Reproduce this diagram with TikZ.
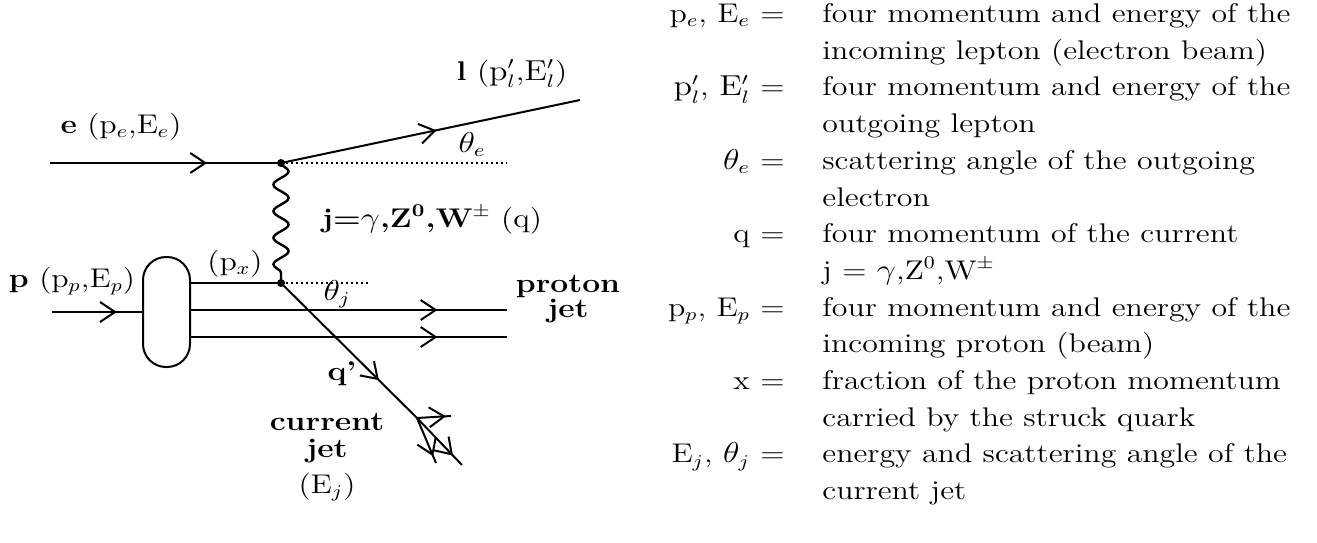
\documentclass[tikz,border=0pt]{standalone}
\usepackage{graphicx}
\usetikzlibrary{arrows.meta,decorations.markings,decorations.pathmorphing}
\newcommand\sx[1]{\scalebox{1.18}[1]{#1}}
\newcommand\rmp{\mathrm{p}}
\newcommand\rmE{\mathrm{E}}
\tikzset{
  lbl/.style={inner sep=0pt, font=\fontsize{13.5}{16}\selectfont},
  fline/.style={line width=1pt},
  marr/.style={postaction={decorate}, decoration={markings, mark=at position #1 with {\arrow{Straight Barb[length=7.5pt,width=10pt]}}}},
  vtx/.style={circle, fill, inner sep=0pt, minimum size=4pt},
  dots/.style={line width=1.1pt, dash pattern=on 1pt off 1.5pt},
  wave/.style={line width=1.2pt, decorate, decoration={snake, segment length=13.3pt, amplitude=3.8pt}},
}
\begin{document}
\begin{tikzpicture}[x=0.5pt,y=-0.5pt]
\useasboundingbox (0,0) rectangle (1317,542);
% ---------- diagram ----------
\node[vtx] (A) at (281,163) {};
\node[vtx] (B) at (281,283) {};
\coordinate (ein) at (50,163);
\coordinate (lout) at (580,100);
\coordinate (thE) at (507,163);
\coordinate (thJ) at (370,283);
\coordinate (pin) at (52,312);
\coordinate (pj2) at (507,310);
\coordinate (pj3) at (507,337);
\coordinate (C) at (417,418);
\coordinate (J1) at (462,465);
\coordinate (J2) at (451,416);
\coordinate (J3) at (436,463);
\node[draw, fline, rounded corners=11.5pt, minimum width=23.5pt, minimum height=55pt, inner sep=0pt] (blob) at (166.5,312) {};

\draw[fline, marr=0.68] (ein) -- (A.center);
\draw[fline, marr=0.52] (A.center) -- (lout);
\draw[dots] (A.center) -- (thE);
\draw[wave] (A.center) -- (B.center);
\draw[dots] (B.center) -- (thJ);
\draw[fline, marr=0.72] (pin) -- (blob.west |- pin);
\draw[fline] (blob.east |- B) -- (B.center);
\draw[fline, marr=0.78] (blob.east |- pj2) -- (pj2);
\draw[fline, marr=0.78] (blob.east |- pj3) -- (pj3);
\draw[fline, marr=0.72] (B.center) -- (C);
\draw[fline, marr=0.8] (C) -- (J1);
\draw[fline, marr=0.85] (C) -- (J2);
\draw[fline, marr=0.85] (C) -- (J3);

\node[lbl, anchor=base] (elbl) at (121,133) {\sx{\textbf{e} (p$_e$,E$_e$)}};
\node[lbl, anchor=base] (llbl) at (512,80) {\sx{\textbf{l} ($\rmp'_l$,$\rmE'_l$)}};
\node[lbl, anchor=base] (the) at (472,152) {\sx{$\theta_e$}};
\node[lbl, anchor=base] (jlbl) at (432,227) {\sx{\textbf{j=}$\gamma$\textbf{,Z$^{\mathbf{0}}$,W$^\pm$} (q)}};
\node[lbl, anchor=base] (pxlbl) at (235,270) {\sx{(p$_x$)}};
\node[lbl, anchor=base] (plbl) at (72,287) {\sx{\textbf{p} (p$_p$,E$_p$)}};
\node[lbl, anchor=base] (thj) at (337,300) {\sx{$\theta_j$}};
\node[lbl, anchor=base] (qlbl) at (342,380) {\sx{\textbf{q'}}};
\node[lbl, anchor=base] (cjet) at (327,430) {\sx{\fontsize{13.5}{13.5}\selectfont\begin{tabular}[t]{@{}c@{}}\textbf{current}\\ \textbf{jet}\\[4pt] (E$_j$)\end{tabular}}};
\node[lbl, anchor=base] (pjet) at (568,292) {\sx{\fontsize{13.5}{12}\selectfont\begin{tabular}[t]{@{}c@{}}\textbf{proton}\\ \textbf{jet}\end{tabular}}};

% ---------- legend ----------
\tikzset{lkey/.style={lbl, anchor=base east}, ltxt/.style={lbl, anchor=base west}}
\node[lkey] (k0) at (785,22.5) {\sx{p$_e$, E$_e$ =}};
\node[ltxt] (t0) at (822,22.5) {\sx{four momentum and energy of the}};
\node[ltxt] (t1) at (822,59.2) {\sx{incoming lepton (electron beam)}};
\node[lkey] (k2) at (785,95.9) {\sx{$\rmp'_l$, $\rmE'_l$ =}};
\node[ltxt] (t2) at (822,95.9) {\sx{four momentum and energy of the}};
\node[ltxt] (t3) at (822,132.6) {\sx{outgoing lepton}};
\node[lkey] (k4) at (785,169.3) {\sx{$\theta_e$ =}};
\node[ltxt] (t4) at (822,169.3) {\sx{scattering angle of the outgoing}};
\node[ltxt] (t5) at (822,206) {\sx{electron}};
\node[lkey] (k6) at (785,242.7) {\sx{q =}};
\node[ltxt] (t6) at (822,242.7) {\sx{four momentum of the current}};
\node[ltxt] (t7) at (822,279.4) {\sx{j = $\gamma$,Z$^0$,W$^\pm$}};
\node[lkey] (k8) at (785,316.1) {\sx{p$_p$, E$_p$ =}};
\node[ltxt] (t8) at (822,316.1) {\sx{four momentum and energy of the}};
\node[ltxt] (t9) at (822,352.8) {\sx{incoming proton (beam)}};
\node[lkey] (k10) at (785,389.5) {\sx{x =}};
\node[ltxt] (t10) at (822,389.5) {\sx{fraction of the proton momentum}};
\node[ltxt] (t11) at (822,426.2) {\sx{carried by the struck quark}};
\node[lkey] (k12) at (785,462.9) {\sx{E$_j$, $\theta_j$ =}};
\node[ltxt] (t12) at (822,462.9) {\sx{energy and scattering angle of the}};
\node[ltxt] (t13) at (822,499.6) {\sx{current jet}};
\end{tikzpicture}
\end{document}
